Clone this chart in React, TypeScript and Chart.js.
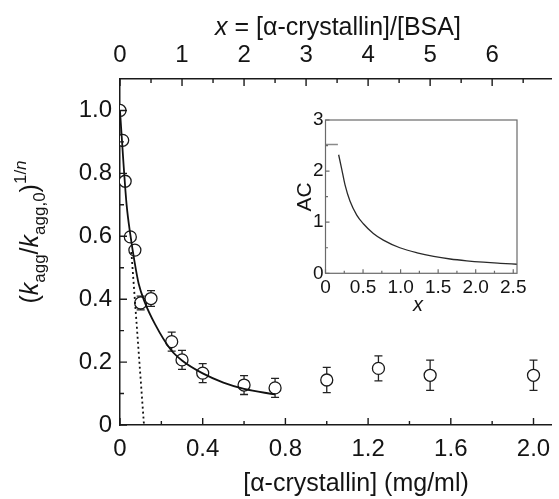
import React, { useEffect, useRef } from "react";
import { Chart, registerables } from "chart.js";

Chart.register(...registerables);

// ---------- data ----------
const concentrations = [0, 0.013, 0.025, 0.05, 0.072, 0.1, 0.15, 0.25, 0.3, 0.4, 0.6, 0.75, 1.0, 1.25, 1.5, 2.0];
const ratioValues = [1.0, 0.905, 0.775, 0.598, 0.556, 0.388, 0.402, 0.265, 0.207, 0.165, 0.127, 0.118, 0.143, 0.18, 0.158, 0.158];
const ratioErrors = [0, 0, 0, 0, 0, 0.022, 0.025, 0.03, 0.03, 0.03, 0.03, 0.03, 0.04, 0.04, 0.048, 0.048];

const fitX = [0, 0.016, 0.032, 0.05, 0.07, 0.09, 0.12, 0.17, 0.245, 0.3, 0.4, 0.5, 0.6, 0.75];
const fitY = [1.0, 0.84, 0.7, 0.605, 0.52, 0.45, 0.39, 0.32, 0.24, 0.205, 0.164, 0.135, 0.115, 0.097];

const tangentX = [0.055, 0.116];
const tangentY = [0.55, 0];

const xTicks = [0, 0.4, 0.8, 1.2, 1.6, 2.0];
const xMinorTicks = [0.2, 0.6, 1.0, 1.4, 1.8];
const yTicks = [0, 0.2, 0.4, 0.6, 0.8, 1.0];
const yMinorTicks = [0.1, 0.3, 0.5, 0.7, 0.9];
const topTicks = [0, 1, 2, 3, 4, 5, 6];
const topMinorTicks = [0.5, 1.5, 2.5, 3.5, 4.5, 5.5, 6.5];
const X_MAX = 2.088;
const Y_MAX = 1.1;
const CONC_PER_RATIO = 0.3; // mg/ml of alpha-crystallin per unit x

const insetX = [0.175, 0.216, 0.26, 0.327, 0.416, 0.504, 0.637, 0.77, 0.99, 1.22, 1.44, 1.66, 1.88, 2.1, 2.33, 2.55];
const insetAC = [2.32, 2.04, 1.73, 1.41, 1.14, 0.97, 0.78, 0.65, 0.5, 0.4, 0.33, 0.28, 0.245, 0.218, 0.196, 0.177];
const plateauX = [0, 0.165];
const plateauAC = [2.52, 2.52];
const insetXTicks = [0, 0.5, 1.0, 1.5, 2.0, 2.5];
const insetXMinor = [0.25, 0.75, 1.25, 1.75, 2.25];
const insetYTicks = [0, 1, 2, 3];
const insetYMinor = [0.5, 1.5, 2.5];
const INSET_X_MAX = 2.55;
const INSET_Y_MAX = 3;

// ---------- helpers ----------
const FONT = "'Liberation Sans', Arial, Helvetica, sans-serif";
const NARROW = "'Liberation Sans Narrow', 'Liberation Sans', Arial, sans-serif";
const INK = "#141414";

type Seg = { t: string; size: number; italic?: boolean; dy?: number };

function segFont(s: Seg, fam = FONT) {
  return `${s.italic ? "italic " : ""}${s.size}px ${fam}`;
}
function measureSegs(ctx: CanvasRenderingContext2D, segs: Seg[]) {
  let w = 0;
  for (const s of segs) {
    ctx.font = segFont(s);
    w += ctx.measureText(s.t).width;
  }
  return w;
}
function drawSegs(ctx: CanvasRenderingContext2D, segs: Seg[], x: number, y: number) {
  let cx = x;
  for (const s of segs) {
    ctx.font = segFont(s);
    ctx.fillText(s.t, cx, y + (s.dy || 0));
    cx += ctx.measureText(s.t).width;
  }
}

const fmtMain = (v: number) => (v === 0 ? "0" : v.toFixed(1));

const mainDecor = {
  id: "mainDecor",
  beforeDatasetsDraw(chart: any) {
    const { ctx, chartArea } = chart;
    const sx = chart.scales.x;
    const sy = chart.scales.y;
    ctx.save();
    ctx.beginPath();
    ctx.rect(chartArea.left, chartArea.top, chartArea.right - chartArea.left, chartArea.bottom - chartArea.top);
    ctx.clip();
    ctx.strokeStyle = "#222";
    ctx.lineWidth = 1.3;
    concentrations.forEach((c, i) => {
      const e = ratioErrors[i];
      if (!e) return;
      const px = sx.getPixelForValue(c);
      const y1 = sy.getPixelForValue(ratioValues[i] + e);
      const y2 = sy.getPixelForValue(ratioValues[i] - e);
      ctx.beginPath();
      ctx.moveTo(px, y1);
      ctx.lineTo(px, y2);
      ctx.moveTo(px - 4, y1);
      ctx.lineTo(px + 4, y1);
      ctx.moveTo(px - 4, y2);
      ctx.lineTo(px + 4, y2);
      ctx.stroke();
    });
    ctx.restore();
  },
  afterDraw(chart: any) {
    const { ctx, chartArea } = chart;
    const sx = chart.scales.x;
    const sx2 = chart.scales.x2;
    const sy = chart.scales.y;
    ctx.save();
    ctx.strokeStyle = "#1a1a1a";
    ctx.lineWidth = 1.4;
    ctx.beginPath();
    const vt = (s: any, vals: number[], len: number, base: number, dir: number) => {
      vals.forEach((v) => {
        const p = s.getPixelForValue(v);
        ctx.moveTo(p, base);
        ctx.lineTo(p, base + dir * len);
      });
    };
    vt(sx, xTicks, 7, chartArea.bottom, -1);
    vt(sx, xMinorTicks, 4, chartArea.bottom, -1);
    vt(sx2, topTicks, 7, chartArea.top, 1);
    vt(sx2, topMinorTicks, 4, chartArea.top, 1);
    yTicks.forEach((v) => {
      const p = sy.getPixelForValue(v);
      ctx.moveTo(chartArea.left, p);
      ctx.lineTo(chartArea.left + 7, p);
    });
    yMinorTicks.forEach((v) => {
      const p = sy.getPixelForValue(v);
      ctx.moveTo(chartArea.left, p);
      ctx.lineTo(chartArea.left + 4, p);
    });
    ctx.stroke();

    ctx.fillStyle = INK;
    ctx.textBaseline = "alphabetic";
    ctx.textAlign = "left";
    // top title
    const topSegs: Seg[] = [
      { t: "x", size: 25, italic: true },
      { t: " = [α-crystallin]/[BSA]", size: 25 },
    ];
    const tw = measureSegs(ctx, topSegs);
    drawSegs(ctx, topSegs, 338 - tw / 2, 35);
    // bottom title
    const botSegs: Seg[] = [{ t: "[α-crystallin] (mg/ml)", size: 25 }];
    const bw = measureSegs(ctx, botSegs);
    drawSegs(ctx, botSegs, 356 - bw / 2, 491);
    // y title
    const ySegs: Seg[] = [
      { t: "(", size: 25 },
      { t: "k", size: 25, italic: true },
      { t: "agg", size: 17, dy: 7 },
      { t: "/", size: 25 },
      { t: "k", size: 25, italic: true },
      { t: "agg,0", size: 17, dy: 7 },
      { t: ")", size: 25 },
      { t: "1/", size: 17, dy: -12 },
      { t: "n", size: 17, italic: true, dy: -12 },
    ];
    const yw = measureSegs(ctx, ySegs);
    ctx.translate(38, 232);
    ctx.rotate(-Math.PI / 2);
    drawSegs(ctx, ySegs, -yw / 2, 0);
    ctx.restore();
  },
};

const insetDecor = {
  id: "insetDecor",
  afterDraw(chart: any) {
    const { ctx, chartArea } = chart;
    const sx = chart.scales.x;
    const sy = chart.scales.y;
    ctx.save();
    ctx.strokeStyle = "#6a6a6a";
    ctx.lineWidth = 1.2;
    ctx.strokeRect(chartArea.left, chartArea.top, chartArea.right - chartArea.left, chartArea.bottom - chartArea.top);
    ctx.beginPath();
    insetXTicks.forEach((v) => {
      const p = sx.getPixelForValue(v);
      ctx.moveTo(p, chartArea.bottom);
      ctx.lineTo(p, chartArea.bottom - 4);
    });
    insetXMinor.forEach((v) => {
      const p = sx.getPixelForValue(v);
      ctx.moveTo(p, chartArea.bottom);
      ctx.lineTo(p, chartArea.bottom - 2.5);
    });
    insetYTicks.forEach((v) => {
      const p = sy.getPixelForValue(v);
      ctx.moveTo(chartArea.left, p);
      ctx.lineTo(chartArea.left + 4, p);
    });
    insetYMinor.forEach((v) => {
      const p = sy.getPixelForValue(v);
      ctx.moveTo(chartArea.left, p);
      ctx.lineTo(chartArea.left + 2.5, p);
    });
    ctx.stroke();

    ctx.fillStyle = INK;
    ctx.textAlign = "center";
    ctx.textBaseline = "alphabetic";
    ctx.font = `italic 20px ${FONT}`;
    ctx.fillText("x", 138, 201);
    ctx.translate(31, 87);
    ctx.rotate(-Math.PI / 2);
    ctx.font = `21px ${NARROW}`;
    ctx.fillText("AC", 0, 0);
    ctx.restore();
  },
};

export default function App() {
  const mainRef = useRef<HTMLCanvasElement | null>(null);
  const insetRef = useRef<HTMLCanvasElement | null>(null);

  useEffect(() => {
    if (!mainRef.current || !insetRef.current) return;
    const tickFont = { family: FONT, size: 24 };
    const main = new Chart(mainRef.current, {
      type: "scatter",
      data: {
        datasets: [
          {
            type: "line",
            data: fitX.map((x, i) => ({ x, y: fitY[i] })),
            borderColor: "#111",
            borderWidth: 1.8,
            pointRadius: 0,
            cubicInterpolationMode: "monotone",
            fill: false,
            clip: 0,
          } as any,
          {
            type: "line",
            data: tangentX.map((x, i) => ({ x, y: tangentY[i] })),
            borderColor: "#111",
            borderWidth: 1.8,
            borderDash: [2, 3],
            pointRadius: 0,
            fill: false,
            clip: 0,
          } as any,
          {
            type: "scatter",
            data: concentrations.map((x, i) => ({ x, y: ratioValues[i] })),
            pointRadius: 6,
            pointBorderWidth: 1.3,
            pointBorderColor: "#1a1a1a",
            pointBackgroundColor: "#ffffff",
            showLine: false,
            clip: 0,
          } as any,
        ],
      },
      options: {
        responsive: false,
        animation: false,
        events: [],
        layout: { padding: 0 },
        plugins: { legend: { display: false }, tooltip: { enabled: false } },
        scales: {
          x: {
            type: "linear",
            position: "bottom",
            min: 0,
            max: X_MAX,
            afterBuildTicks: (s: any) => {
              s.ticks = xTicks.map((v) => ({ value: v }));
            },
            afterFit: (s: any) => {
              s.height = 74;
              s.paddingLeft = 0;
              s.paddingRight = 0;
            },
            grid: { display: false, drawTicks: false },
            border: { display: true, color: "#1a1a1a", width: 1.5 },
            ticks: {
              font: tickFont,
              color: INK,
              padding: 10,
              maxRotation: 0,
              autoSkip: false,
              callback: (v: any) => fmtMain(Number(v)),
            },
          },
          x2: {
            type: "linear",
            position: "top",
            min: 0,
            max: X_MAX / CONC_PER_RATIO,
            afterBuildTicks: (s: any) => {
              s.ticks = topTicks.map((v) => ({ value: v }));
            },
            afterFit: (s: any) => {
              s.height = 79;
              s.paddingLeft = 0;
              s.paddingRight = 0;
            },
            grid: { display: false, drawTicks: false },
            border: { display: true, color: "#1a1a1a", width: 1.5 },
            ticks: {
              font: tickFont,
              color: INK,
              padding: 9,
              maxRotation: 0,
              autoSkip: false,
              callback: (v: any) => String(v),
            },
          },
          y: {
            type: "linear",
            position: "left",
            min: 0,
            max: Y_MAX,
            afterBuildTicks: (s: any) => {
              s.ticks = yTicks.map((v) => ({ value: v }));
            },
            afterFit: (s: any) => {
              s.width = 120;
              s.paddingTop = 0;
              s.paddingBottom = 0;
            },
            grid: { display: false, drawTicks: false },
            border: { display: true, color: "#1a1a1a", width: 1.5 },
            ticks: {
              font: tickFont,
              color: INK,
              padding: 8,
              autoSkip: false,
              callback: (v: any) => fmtMain(Number(v)),
            },
          },
        },
      } as any,
      plugins: [mainDecor],
    });

    const insetFont = { family: NARROW, size: 19 };
    const inset = new Chart(insetRef.current, {
      type: "scatter",
      data: {
        datasets: [
          {
            type: "line",
            data: plateauX.map((x, i) => ({ x, y: plateauAC[i] })),
            borderColor: "#8a8a8a",
            borderWidth: 1.6,
            pointRadius: 0,
            fill: false,
          } as any,
          {
            type: "line",
            data: insetX.map((x, i) => ({ x, y: insetAC[i] })),
            borderColor: "#2a2a2a",
            borderWidth: 1.3,
            pointRadius: 0,
            cubicInterpolationMode: "monotone",
            fill: false,
          } as any,
        ],
      },
      options: {
        responsive: false,
        animation: false,
        events: [],
        layout: { padding: { top: 10, right: 13, left: 0, bottom: 0 } },
        plugins: { legend: { display: false }, tooltip: { enabled: false } },
        scales: {
          x: {
            type: "linear",
            position: "bottom",
            min: 0,
            max: INSET_X_MAX,
            afterBuildTicks: (s: any) => {
              s.ticks = insetXTicks.map((v) => ({ value: v }));
            },
            afterFit: (s: any) => {
              s.height = 46.7;
              s.paddingLeft = 0;
              s.paddingRight = 0;
            },
            grid: { display: false, drawTicks: false },
            border: { display: false },
            ticks: {
              font: insetFont,
              color: INK,
              padding: 3,
              maxRotation: 0,
              autoSkip: false,
              callback: (v: any) => (Number(v) === 0 ? "0" : Number(v).toFixed(1)),
            },
          },
          y: {
            type: "linear",
            position: "left",
            min: 0,
            max: INSET_Y_MAX,
            afterBuildTicks: (s: any) => {
              s.ticks = insetYTicks.map((v) => ({ value: v }));
            },
            afterFit: (s: any) => {
              s.width = 45.5;
              s.paddingTop = 0;
              s.paddingBottom = 0;
            },
            grid: { display: false, drawTicks: false },
            border: { display: false },
            ticks: {
              font: insetFont,
              color: INK,
              padding: 2,
              autoSkip: false,
              callback: (v: any) => String(v),
            },
          },
        },
      } as any,
      plugins: [insetDecor],
    });

    return () => {
      main.destroy();
      inset.destroy();
    };
  }, []);

  return (
    <div style={{ position: "absolute", left: 0, top: 0, width: 559, height: 499, background: "#fff" }}>
      <canvas ref={mainRef} width={559} height={499} style={{ position: "absolute", left: 0, top: 0 }} />
      <canvas ref={insetRef} width={250} height={210} style={{ position: "absolute", left: 280, top: 110 }} />
    </div>
  );
}
